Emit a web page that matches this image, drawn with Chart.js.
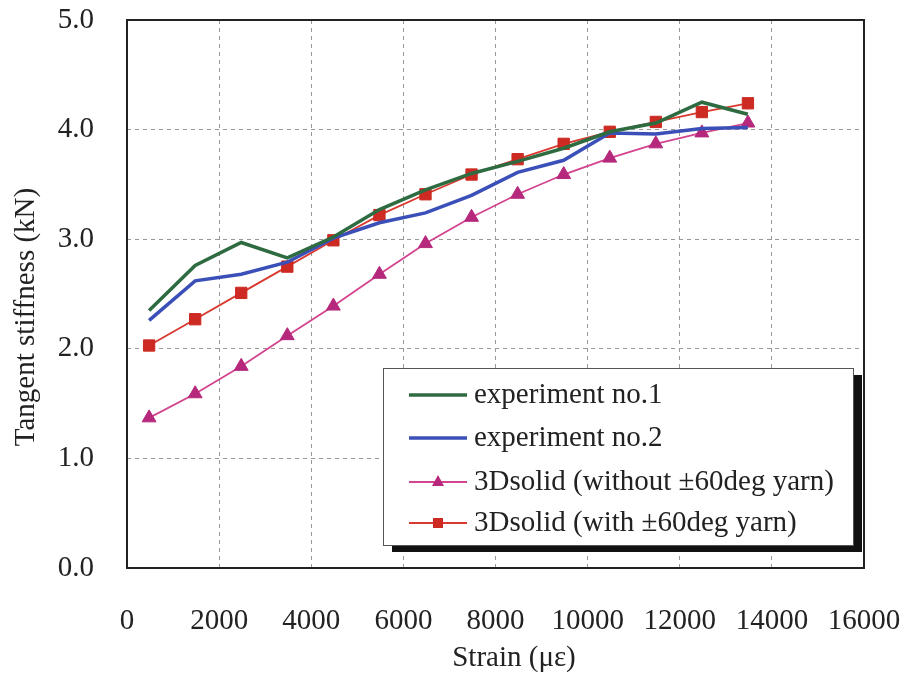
<!DOCTYPE html>
<html>
<head>
<meta charset="utf-8">
<script src="https://cdn.jsdelivr.net/npm/chart.js@4/dist/chart.umd.min.js"></script>
<style>
body{margin:0;background:#fff;}
</style>
</head>
<body>
<canvas id="grafico" width="908" height="682"></canvas>
<script>
// datos
const strain=[480,1480,2480,3480,4480,5480,6480,7480,8480,9480,10480,11480,12480,13480];
const exp1=[2.35,2.76,2.97,2.83,3.02,3.27,3.45,3.60,3.71,3.83,3.98,4.06,4.25,4.14];
const exp2=[2.26,2.62,2.68,2.79,3.01,3.15,3.24,3.40,3.61,3.72,3.97,3.96,4.01,4.02];
const sinYarn=[1.37,1.59,1.84,2.12,2.39,2.68,2.96,3.20,3.41,3.59,3.74,3.87,3.97,4.06];
const conYarn=[2.03,2.27,2.51,2.75,2.99,3.22,3.41,3.59,3.73,3.87,3.98,4.07,4.16,4.24];
const nombres=["experiment no.1","experiment no.2","3Dsolid (without \u00b160deg yarn)","3Dsolid (with \u00b160deg yarn)"];
const xTicks=[0,2000,4000,6000,8000,10000,12000,14000,16000];
const yTicks=[0,1,2,3,4,5];

const fuente="'Liberation Serif','Times New Roman',serif";
const pares=arr=>arr.map((v,i)=>({x:strain[i],y:v}));

// marco del area
const marco={
  id:"marco",
  beforeDatasetsDraw(chart){
    const {ctx,chartArea:a}=chart;
    ctx.save();
    ctx.strokeStyle="#222";
    ctx.lineWidth=2;
    ctx.strokeRect(a.left,a.top,a.right-a.left,a.bottom-a.top);
    ctx.restore();
  }
};

// titulos de ejes
const titulos={
  id:"titulos",
  afterDraw(chart){
    const ctx=chart.ctx;
    ctx.save();
    ctx.fillStyle="#222";
    ctx.font="29px "+fuente;
    ctx.textAlign="center";
    ctx.textBaseline="middle";
    ctx.fillText("Strain (\u03bc\u03b5)",514,658);
    ctx.translate(26,317);
    ctx.rotate(-Math.PI/2);
    ctx.fillText("Tangent stiffness (kN)",0,0);
    ctx.restore();
  }
};

// leyenda con sombra
const leyenda={
  id:"leyenda",
  afterDraw(chart){
    const ctx=chart.ctx;
    const x=383,y=368,w=470,h=177;
    ctx.save();
    ctx.fillStyle="#111";
    ctx.fillRect(x+9,y+7,w,h);
    ctx.fillStyle="#fff";
    ctx.fillRect(x,y,w,h);
    ctx.strokeStyle="#555";
    ctx.lineWidth=1;
    ctx.strokeRect(x+0.5,y+0.5,w,h);
    const filas=[395,438,482,523];
    chart.data.datasets.forEach((ds,i)=>{
      const fy=filas[i];
      ctx.strokeStyle=ds.borderColor;
      ctx.lineWidth=ds.borderWidth;
      ctx.beginPath();ctx.moveTo(409,fy);ctx.lineTo(467,fy);ctx.stroke();
      if(ds.pointRadius>0){
        ctx.fillStyle=ds.pointBackgroundColor;
        if(ds.pointStyle==="triangle"){
          ctx.beginPath();ctx.moveTo(438,fy-7);ctx.lineTo(444,fy+4);ctx.lineTo(432,fy+4);ctx.closePath();ctx.fill();
        }else{
          ctx.fillRect(433,fy-5,10,10);
        }
      }
      ctx.fillStyle="#222";
      ctx.font="29px "+fuente;
      ctx.textAlign="left";
      ctx.textBaseline="middle";
      ctx.fillText(ds.label,474,fy);
    });
    ctx.restore();
  }
};

new Chart(document.getElementById("grafico"),{
  type:"line",
  data:{
    datasets:[
      {label:nombres[0],data:pares(exp1),borderColor:"#2e6b40",borderWidth:3.5,pointRadius:0,tension:0},
      {label:nombres[1],data:pares(exp2),borderColor:"#3b4fb8",borderWidth:3.5,pointRadius:0,tension:0},
      {label:nombres[2],data:pares(sinYarn),borderColor:"#d3448e",borderWidth:1.8,pointStyle:"triangle",pointRadius:8,pointBackgroundColor:"#b5287c",pointBorderColor:"#b5287c",pointBorderWidth:1},
      {label:nombres[3],data:pares(conYarn),borderColor:"#d8382e",borderWidth:1.8,pointStyle:"rect",pointRadius:8,pointBackgroundColor:"#cc2a22",pointBorderColor:"#cc2a22",pointBorderWidth:1}
    ]
  },
  options:{
    responsive:false,
    animation:false,
    layout:{padding:{left:0,top:20,right:44,bottom:0}},
    plugins:{legend:{display:false},tooltip:{enabled:false}},
    scales:{
      x:{
        type:"linear",min:0,max:16000,
        afterBuildTicks:s=>{s.ticks=xTicks.map(v=>({value:v}));},
        afterFit:s=>{s.height=114;s.paddingLeft=0;s.paddingRight=0;},
        ticks:{callback:v=>String(v),color:"#222",font:{family:fuente,size:29},padding:36,maxRotation:0},
        grid:{color:"#999",lineWidth:1,drawTicks:false},
        border:{display:false,dash:[4,4]}
      },
      y:{
        min:0,max:5,
        afterBuildTicks:s=>{s.ticks=yTicks.map(v=>({value:v}));},
        afterFit:s=>{s.width=127;s.paddingTop=0;s.paddingBottom=0;},
        ticks:{callback:v=>v.toFixed(1),color:"#222",font:{family:fuente,size:29},padding:33},
        grid:{color:"#999",lineWidth:1,drawTicks:false},
        border:{display:false,dash:[4,4]}
      }
    }
  },
  plugins:[marco,titulos,leyenda]
});
</script>
</body>
</html>
